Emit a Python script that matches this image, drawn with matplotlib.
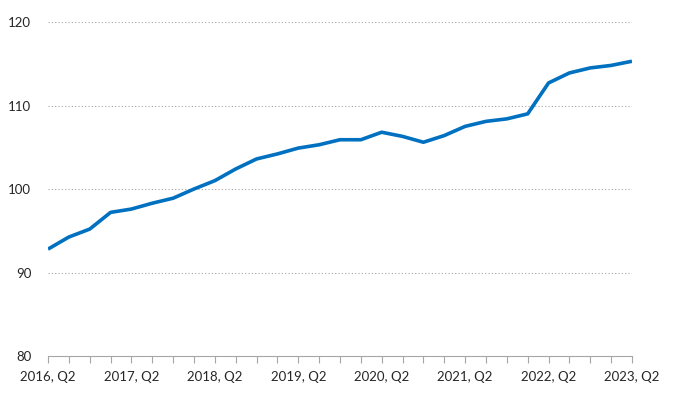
import matplotlib.pyplot as plt

# quarterly index, 2016 Q2 .. 2023 Q2
quarters = [f"{y}, Q{q}" for y in range(2016, 2024) for q in range(1, 5)][1:30]
values = [92.8, 94.25, 95.2, 97.2, 97.6, 98.3, 98.9, 100.0, 101.0, 102.4,
          103.6, 104.2, 104.9, 105.3, 105.9, 105.9, 106.8, 106.3, 105.6, 106.4,
          107.5, 108.1, 108.4, 109.0, 112.7, 113.9, 114.5, 114.8, 115.3]
yticks = [80, 90, 100, 110, 120]

plt.rcParams['font.family'] = ['Lato', 'DejaVu Sans']

fig = plt.figure(figsize=(6.79, 3.95), dpi=100)
ax = fig.add_axes([0.0707, 0.0987, 0.86, 0.8456])

x = list(range(len(values)))
ax.plot(x, values, color='#0070C0', linewidth=2.6, solid_capstyle='butt')

ax.set_xlim(0, len(values) - 1)
ax.set_ylim(80, 120)
ax.set_yticks(yticks)
ax.set_yticklabels([str(v) for v in yticks], fontsize=9.5, color='#262626')

ax.set_xticks(x)
ax.set_xticklabels([q if i % 4 == 0 else '' for i, q in enumerate(quarters)],
                   fontsize=9.5, color='#262626')
ax.tick_params(axis='x', direction='out', length=5, color='#A6A6A6', pad=6)
ax.tick_params(axis='y', length=0, pad=12)

for v in yticks[1:]:
    ax.axhline(v, color='#A6A6A6', linewidth=0.8, linestyle=(0, (1, 2)), zorder=0)

for s in ['top', 'right', 'left']:
    ax.spines[s].set_visible(False)
ax.spines['bottom'].set_color('#A6A6A6')
ax.spines['bottom'].set_linewidth(0.8)

fig.savefig('out.png', dpi=100)
